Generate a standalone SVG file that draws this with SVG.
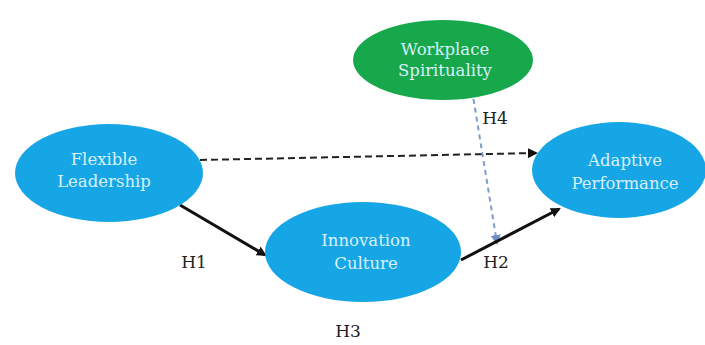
<svg xmlns="http://www.w3.org/2000/svg" width="705" height="345" viewBox="0 0 705 345">
<style>
.blue{fill:#16a6e6}
.green{fill:#17a84b}
.nt{font-family:'DejaVu Serif','Liberation Serif',serif;font-size:16.5px;fill:#d9f1fb;text-anchor:middle}
.lbl{font-family:'DejaVu Serif','Liberation Serif',serif;font-size:17px;fill:#222;text-anchor:middle}
.solid{stroke:#111;stroke-width:3;fill:none}
.dash{stroke:#222;stroke-width:2;stroke-dasharray:7,4;fill:none}
.bdash{stroke:#7f9bcf;stroke-width:2;stroke-dasharray:5,4;fill:none}
</style>
<defs>
<marker id="ah" markerWidth="10" markerHeight="10" refX="8" refY="5" orient="auto" markerUnits="userSpaceOnUse" viewBox="0 0 10 10"><path d="M0,0 L10,5 L0,10 z" fill="#111"/></marker>
<marker id="ahb" markerWidth="10" markerHeight="10" refX="8" refY="5" orient="auto" markerUnits="userSpaceOnUse" viewBox="0 0 10 10"><path d="M0,0 L10,5 L0,10 z" fill="#6f8fc8"/></marker>
</defs>
<rect width="705" height="345" fill="#fff"/>
<g id="connectors">
<line class="dash" x1="200" y1="160" x2="536" y2="153" marker-end="url(#ah)"/>
<line class="bdash" x1="472" y1="90" x2="497" y2="243" marker-end="url(#ahb)"/>
<line class="solid" x1="180" y1="205" x2="265" y2="255" marker-end="url(#ah)"/>
<line class="solid" x1="461" y1="260" x2="559" y2="209" marker-end="url(#ah)"/>
</g>
<g id="flexible-leadership">
<ellipse class="blue" cx="109" cy="173" rx="94" ry="49"/>
<text class="nt" x="104" y="165">Flexible</text>
<text class="nt" x="104" y="187">Leadership</text>
</g>
<g id="workplace-spirituality">
<ellipse class="green" cx="443" cy="60" rx="90" ry="40"/>
<text class="nt" x="445" y="55">Workplace</text>
<text class="nt" x="445" y="76">Spirituality</text>
</g>
<g id="adaptive-performance">
<ellipse class="blue" cx="619" cy="170" rx="87" ry="48"/>
<text class="nt" x="625" y="166">Adaptive</text>
<text class="nt" x="625" y="189">Performance</text>
</g>
<g id="innovation-culture">
<ellipse class="blue" cx="363" cy="252" rx="98" ry="50"/>
<text class="nt" x="366" y="246">Innovation</text>
<text class="nt" x="366" y="269">Culture</text>
</g>
<g id="labels">
<text class="lbl" x="194" y="268">H1</text>
<text class="lbl" x="496" y="268">H2</text>
<text class="lbl" x="348" y="337">H3</text>
<text class="lbl" x="495" y="124">H4</text>
</g>
</svg>
